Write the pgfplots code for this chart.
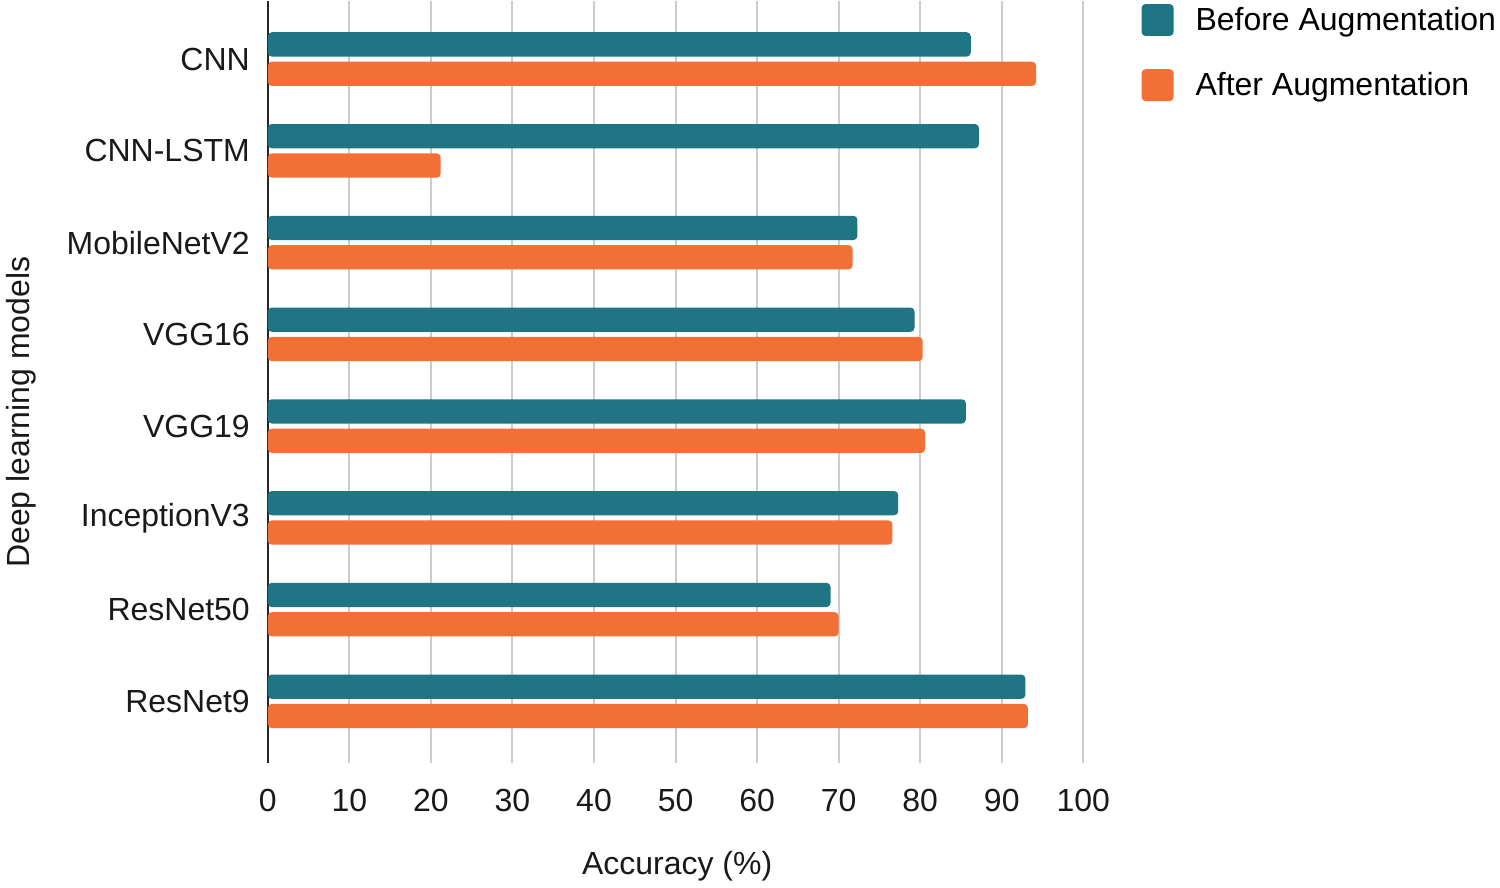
\documentclass[border=0pt]{standalone}
\usepackage{fontspec}
\setmainfont{Liberation Sans}
\usepackage{pgfplots}
\pgfplotsset{compat=1.18}
\definecolor{teal1}{RGB}{31,117,131}
\definecolor{orng}{RGB}{242,111,54}
\definecolor{gridc}{RGB}{204,204,204}
\begin{document}
\begin{tikzpicture}
\begin{axis}[
  scale only axis,
  width=408pt, height=381pt,
  xbar,
  xmin=0, xmax=100,
  ymin=-0.633, ymax=7.666,
  y dir=reverse,
  xtick={0,10,...,100},
  ytick={0,1,2,3,4,5,6,7},
  yticklabels={CNN,CNN-LSTM,MobileNetV2,VGG16,VGG19,InceptionV3,ResNet50,ResNet9},
  major tick length=0pt,
  xmajorgrids,
  grid style={gridc, line width=1pt},
  axis x line*=bottom,
  axis y line*=left,
  x axis line style={draw=none},
  y axis line style={black!85, line width=1pt},
  /pgf/number format/assume math mode=true,
  tick label style={font=\fontsize{16}{19}\selectfont, black!90},
  yticklabel style={xshift=-5.5pt},
  xticklabel style={yshift=-10pt},
  xlabel={Accuracy (\%)},
  ylabel={Deep learning models},
  every axis x label/.style={at={(axis description cs:0.502,0)}, anchor=center, yshift=-52pt, font=\fontsize{16}{19}\selectfont, black!90},
  every axis y label/.style={at={(axis description cs:-0.302,0.46)}, anchor=center, rotate=90, font=\fontsize{16}{19}\selectfont, black!90},
  legend style={at={(axis description cs:1.071,0.998)}, anchor=north west, draw=none,
    font=\fontsize{16}{19}\selectfont, row sep=15.5pt, column sep=9pt, inner sep=0pt},
  legend cell align=left,
  legend image code/.code={\fill[#1] (0pt,-8pt) rectangle (16pt,8pt);},
]
\addplot[fill=teal1, draw=none, bar width=0.265, bar shift=-0.16, rounded corners=2pt] coordinates {
(86.2,0) (87.2,1) (72.3,2) (79.3,3) (85.6,4) (77.3,5) (69.0,6) (92.9,7)};
\addplot[fill=orng, draw=none, bar width=0.265, bar shift=0.16, rounded corners=2pt] coordinates {
(94.2,0) (21.2,1) (71.7,2) (80.3,3) (80.6,4) (76.6,5) (70.0,6) (93.2,7)};
\legend{Before Augmentation, After Augmentation}
\end{axis}
\end{tikzpicture}
\end{document}
